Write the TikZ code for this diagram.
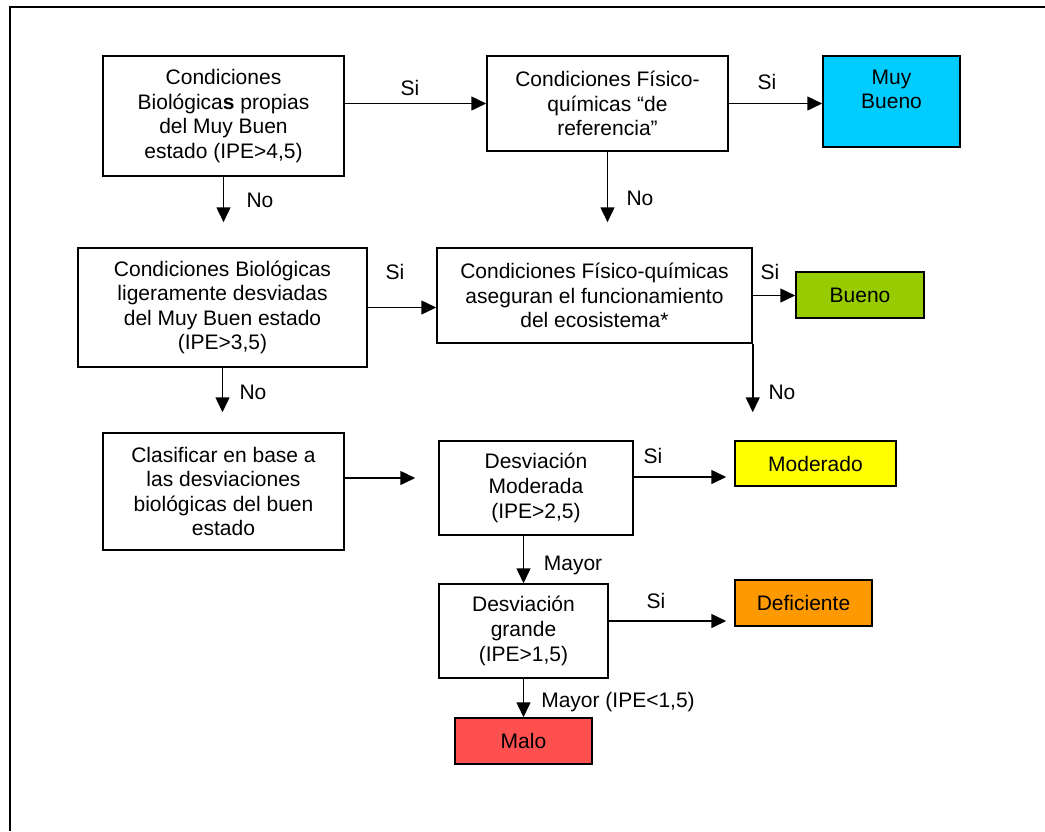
\documentclass[tikz,border=0pt]{standalone}
\usepackage{fontspec}
\setmainfont{Liberation Sans}
\usepackage{tikz}
\usetikzlibrary{arrows.meta,calc}
\usepackage{xcolor}
\definecolor{muybueno}{HTML}{00CCFF}
\definecolor{bueno}{HTML}{99CC00}
\definecolor{moderado}{HTML}{FFFF00}
\definecolor{deficiente}{HTML}{FF9900}
\definecolor{malo}{HTML}{FF5050}

\begin{document}
\begin{tikzpicture}[x=0.5pt, y=-0.5pt,
    every node/.style={font=\fontsize{10.5pt}{12.3pt}\selectfont},
    box/.style={draw, line width=0.75pt, rectangle, align=center, inner sep=0pt},
    lbl/.style={inner sep=0pt},
    flow/.style={line width=0.75pt, -{Triangle[length=7.5pt,width=7pt]}}]
    \useasboundingbox (0,0) rectangle (1045,831);
    \draw[line width=0.75pt] (1045,7) -- (10,7) -- (10,831);

    % row 1
    \node[box, minimum width=120.5pt, minimum height=60pt] (bio1) at (223.5,116)
        {Condiciones\\Biológica\textbf{s} propias\\del Muy Buen\\estado (IPE>4,5)};
    \node[box, minimum width=120.5pt, minimum height=47.5pt] (fq1) at (607.5,103.5)
        {Condiciones Físico-\\químicas “de\\referencia”};
    \node[box, fill=muybueno, minimum width=68.5pt, minimum height=45.5pt] (muybueno) at (891.5,101.5)
        {Muy\\Bueno\\\mbox{}};

    % row 2
    \node[box, minimum width=144.5pt, minimum height=59.5pt] (bio2) at (222.5,307.5)
        {Condiciones Biológicas\\ligeramente desviadas\\del Muy Buen estado\\(IPE>3,5)};
    \node[box, minimum width=157.5pt, minimum height=47.5pt] (fq2) at (594.5,295.5)
        {Condiciones Físico-químicas\\aseguran el funcionamiento\\del ecosistema*};
    \node[box, fill=bueno, minimum width=64pt, minimum height=23pt] (bueno) at (860,295) {Bueno};

    % row 3
    \node[box, minimum width=120.5pt, minimum height=58.5pt] (clasif) at (223.5,491.5)
        {Clasificar en base a\\las desviaciones\\biológicas del buen\\estado};
    \node[box, minimum width=97pt, minimum height=47pt] (desvmod) at (536,488)
        {Desviación\\Moderada\\(IPE>2,5)};
    \node[box, fill=moderado, minimum width=80.5pt, minimum height=22.5pt] (moderado) at (815.5,463.5) {Moderado};
    \node[box, minimum width=84.5pt, minimum height=47pt] (desvgr) at (523.5,631)
        {Desviación\\grande\\(IPE>1,5)};
    \node[box, fill=deficiente, minimum width=68.5pt, minimum height=23pt] (deficiente) at (803.5,603) {Deficiente};
    \node[box, fill=malo, minimum width=68.5pt, minimum height=23pt] (malo) at (523.5,741) {Malo};

    % labels
    \node[lbl] (si1) at (410,88) {Si};
    \node[lbl] (si2) at (767,82) {Si};
    \node[lbl] (no1) at (260,200) {No};
    \node[lbl] (no2) at (640,198) {No};
    \node[lbl] (si3) at (395,272) {Si};
    \node[lbl] (si4) at (770,272) {Si};
    \node[lbl] (no3) at (253,392) {No};
    \node[lbl] (no4) at (782,392) {No};
    \node[lbl] (si5) at (653,456) {Si};
    \node[lbl] (mayor1) at (573,565) {Mayor};
    \node[lbl] (si6) at (656,601) {Si};
    \node[lbl] (mayor2) at (618,702) {Mayor (IPE<1,5)};

    \draw[flow]
    (bio1.east |- fq1.west) -- (fq1.west);
    \draw[flow] (fq1.east) -- (fq1.east -| muybueno.west);
    \draw[flow, shorten >=12.5pt] (bio1.south) -- (bio1.south |- bio2.north);
    \draw[flow, shorten >=12.5pt] (fq1.south) -- (fq1.south |- fq2.north);
    \draw[flow] (bio2.east) -- (bio2.east -| fq2.west);
    \draw[flow] (fq2.east) -- (fq2.east -| bueno.west);
    \draw[flow, shorten >=10pt] (bio2.south) -- (bio2.south |- clasif.north);
    \draw[flow, shorten >=14pt] (fq2.south east) -- (fq2.south east |- moderado.north);
    \draw[flow, shorten >=11.5pt] ([yshift=6.75pt]clasif.east) -- ([yshift=6.75pt]clasif.east -| desvmod.west);
    \draw[flow, shorten >=4pt] ([yshift=5.5pt]desvmod.east) -- ([yshift=5.5pt]desvmod.east -| moderado.west);
    \draw[flow] (desvgr.north |- desvmod.south) -- (desvgr.north);
    \draw[flow, shorten >=4pt] ([yshift=5pt]desvgr.east) -- ([yshift=5pt]desvgr.east -| deficiente.west);
    \draw[flow] (desvgr.south) -- (malo.north);
\end{tikzpicture}
\end{document}
